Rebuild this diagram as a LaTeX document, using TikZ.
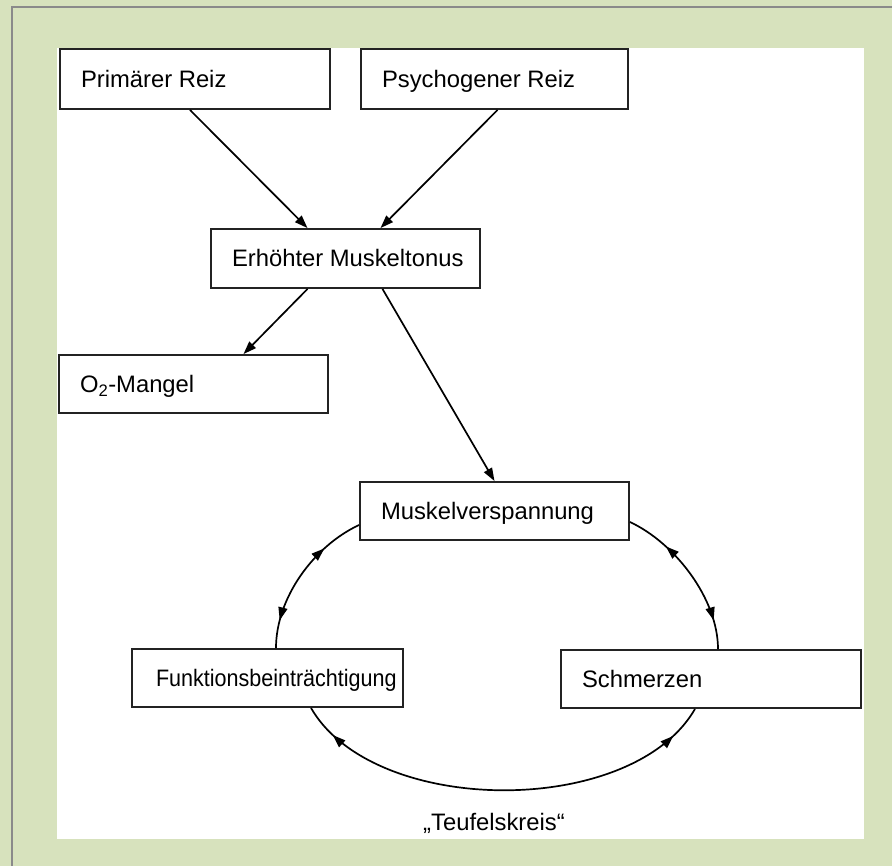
\documentclass[tikz,border=0pt]{standalone}
\usepackage{fontspec}
\setmainfont{Liberation Sans}
\usetikzlibrary{arrows.meta,decorations.markings,calc}
\definecolor{bggreen}{RGB}{215,226,189}
\definecolor{framegray}{RGB}{138,138,138}
\definecolor{boxline}{RGB}{35,35,35}
\newcommand{\boxtext}[2]{\makebox[#1][l]{#2}}
\begin{document}
\begin{tikzpicture}[x=1pt,y=1pt,
  box/.style={draw=boxline, line width=1.9pt, fill=white, inner xsep=21pt,
    text height=17pt, text depth=0pt,
    font=\fontsize{23.8}{28}\selectfont},
  arr/.style={line width=1.7pt, -{Triangle[length=13pt,width=9pt]}},
  cyc/.style={line width=1.7pt, postaction={decorate}},
]
\useasboundingbox (0,0) rectangle (892,-866);
\fill[bggreen] (0,0) rectangle (892,-866);
\draw[framegray, line width=2pt] (12,-866) -- (12,-7) -- (892,-7);
\fill[white] (57,-48) rectangle (864,-839);

\node[box, minimum height=60pt] (prim) at (195,-79) {\boxtext{228pt}{Primärer Reiz}};
\node[box, minimum height=60pt] (psych) at (494.5,-79) {\boxtext{225pt}{Psychogener Reiz}};
\node[box, minimum height=59pt] (erh) at (345.5,-258.5) {\boxtext{227pt}{Erhöhter Muskeltonus}};
\node[box, minimum height=58pt] (o2) at (193.5,-384) {\boxtext{227pt}{O\textsubscript{2}-Mangel}};
\node[box, minimum height=58pt] (musk) at (494.5,-511) {\boxtext{227pt}{Muskelverspannung}};
\node[box, minimum height=58pt, inner xsep=24pt] (funk) at (267.5,-678) {\boxtext{223pt}{\scalebox{0.905}[1]{Funktionsbeinträchtigung}}};
\node[box, minimum height=58pt] (schm) at (711,-679) {\boxtext{258pt}{Schmerzen}};

\node[font=\fontsize{23.8}{28}\selectfont, anchor=base, inner sep=0pt] (tk) at (494,-830) {„Teufelskreis“};

\draw[arr] ([xshift=-5pt]prim.south) -- ([xshift=-38pt]erh.north);
\draw[arr] ([xshift=3pt]psych.south) -- ([xshift=35pt]erh.north);
\draw[arr] ([xshift=-38pt]erh.south) -- ([xshift=50pt]o2.north);
\draw[arr] ([xshift=37pt]erh.south) -- (musk.north);

\draw[cyc, decoration={markings,
    mark=at position 0.27 with {\arrowreversed{Triangle[length=13pt,width=9pt]}},
    mark=at position 0.82 with {\arrow{Triangle[length=13pt,width=9pt]}}}]
  ([yshift=-14pt]musk.west) .. controls +(205:50) and +(90:50) .. ([xshift=8.5pt]funk.north);
\draw[cyc, decoration={markings,
    mark=at position 0.27 with {\arrowreversed{Triangle[length=13pt,width=9pt]}},
    mark=at position 0.82 with {\arrow{Triangle[length=13pt,width=9pt]}}}]
  ([yshift=-11pt]musk.east) .. controls +(-25:50) and +(90:50) .. ([xshift=7pt]schm.north);
\draw[cyc, decoration={markings,
    mark=at position 0.08 with {\arrowreversed{Triangle[length=13pt,width=9pt]}},
    mark=at position 0.92 with {\arrow{Triangle[length=13pt,width=9pt]}}}]
  ([xshift=43.5pt]funk.south) .. controls +(-60:126) and +(-120:126) .. ([xshift=-16pt]schm.south);
\end{tikzpicture}
\end{document}
